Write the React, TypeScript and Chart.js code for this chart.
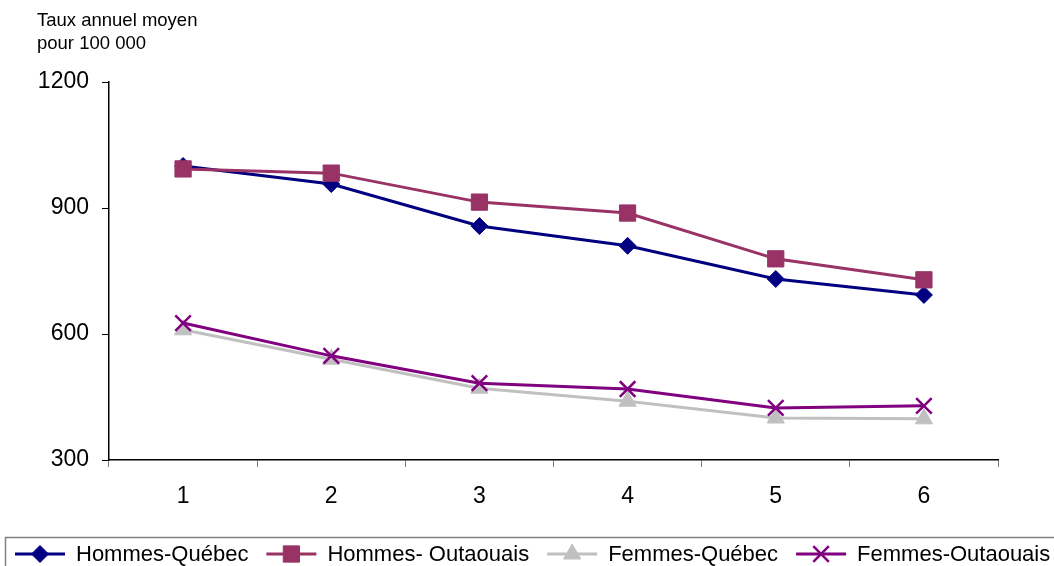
import React, { useEffect, useRef } from "react";
import { Chart, registerables } from "chart.js";
import { drawPoint } from "chart.js/helpers";

Chart.register(...registerables);

const categories = ["1", "2", "3", "4", "5", "6"];
const hommesQuebec = [1000, 957, 857, 810, 731, 693];
const hommesOutaouais = [993, 983, 914, 888, 779, 729];
const femmesQuebec = [610, 540, 471, 440, 400, 398];
const femmesOutaouais = [626, 548, 483, 469, 424, 429];
const yTicks = [300, 600, 900, 1200];
const titleLines = ["Taux annuel moyen", "pour 100 000"];

const FONT = "'Liberation Sans', Arial, sans-serif";

const overlayPlugin = {
  id: "overlay",
  afterDraw(chart: any) {
    const ctx = chart.ctx;
    ctx.save();
    // title
    ctx.fillStyle = "#000";
    ctx.font = `18.5px ${FONT}`;
    ctx.textAlign = "left";
    ctx.textBaseline = "alphabetic";
    ctx.fillText(titleLines[0], 37, 26);
    ctx.fillText(titleLines[1], 37, 49);

    // legend box
    ctx.strokeStyle = "#808080";
    ctx.lineWidth = 1.5;
    ctx.strokeRect(5.5, 537.5, 1200, 100);

    // legend items
    ctx.font = `22px ${FONT}`;
    ctx.textBaseline = "middle";
    const y = 554;
    let x = 15;
    chart.data.datasets.forEach((ds: any) => {
      ctx.strokeStyle = ds.borderColor;
      ctx.lineWidth = ds.borderWidth;
      ctx.beginPath();
      ctx.moveTo(x, y);
      ctx.lineTo(x + 50, y);
      ctx.stroke();
      ctx.fillStyle = ds.pointBackgroundColor;
      ctx.strokeStyle = ds.pointBorderColor;
      ctx.lineWidth = ds.pointBorderWidth;
      drawPoint(
        ctx,
        { pointStyle: ds.pointStyle, rotation: 0, radius: ds.pointRadius, borderWidth: ds.pointBorderWidth },
        x + 25,
        y
      );
      ctx.fillStyle = "#000";
      ctx.fillText(ds.label, x + 61, y + 1);
      const w = ctx.measureText(ds.label).width;
      x = x + 61 + w + 18;
    });
    ctx.restore();
  },
};

export default function App() {
  const ref = useRef<HTMLCanvasElement>(null);
  useEffect(() => {
    if (!ref.current) return;
    const mk = (label: string, data: number[], color: string, style: string, radius: number, order: number, fill = true) => ({
      label,
      data,
      borderColor: color,
      backgroundColor: color,
      borderWidth: 3,
      pointStyle: style,
      pointRadius: radius,
      pointHoverRadius: radius,
      pointBackgroundColor: fill ? color : "rgba(0,0,0,0)",
      pointBorderColor: color,
      pointBorderWidth: fill ? 1 : 2.5,
      tension: 0,
      order,
    });
    const chart = new Chart(ref.current, {
      type: "line",
      data: {
        labels: categories,
        datasets: [
          mk("Hommes-Québec", hommesQuebec, "#000080", "rectRot", 8.5, 4),
          mk("Hommes- Outaouais", hommesOutaouais, "#993366", "rect", 11.5, 3),
          mk("Femmes-Québec", femmesQuebec, "#C0C0C0", "triangle", 10, 2),
          mk("Femmes-Outaouais", femmesOutaouais, "#800080", "crossRot", 11, 1, false),
        ] as any,
      },
      options: {
        responsive: false,
        animation: false,
        layout: { padding: { top: 82, right: 56, bottom: 56, left: 0 } },
        plugins: { legend: { display: false }, tooltip: { enabled: false }, title: { display: false } },
        scales: {
          x: {
            type: "category",
            offset: true,
            grid: { offset: true, drawOnChartArea: false, drawTicks: true, tickLength: 7, color: "#808080", lineWidth: 1 },
            border: { display: true, color: "#000", width: 1.5 },
            ticks: { color: "#000", font: { family: FONT, size: 23 }, padding: 16, maxRotation: 0 },
            afterFit: (s: any) => { s.height = 50; },
          },
          y: {
            min: 300,
            max: 1200,
            afterBuildTicks: (s: any) => { s.ticks = yTicks.map((v) => ({ value: v })); },
            grid: { drawOnChartArea: false, drawTicks: true, tickLength: 7, color: "#000", lineWidth: 1 },
            border: { display: true, color: "#000", width: 1.5 },
            ticks: { color: "#000", font: { family: FONT, size: 23 }, padding: 13, callback: (v: any) => String(v) },
            afterFit: (s: any) => { s.width = 109; },
          },
        },
      } as any,
      plugins: [overlayPlugin],
    });
    return () => chart.destroy();
  }, []);
  return (
    <div style={{ position: "absolute", left: 0, top: 0, width: 1054, height: 566, background: "#fff" }}>
      <canvas ref={ref} width={1054} height={566} />
    </div>
  );
}
